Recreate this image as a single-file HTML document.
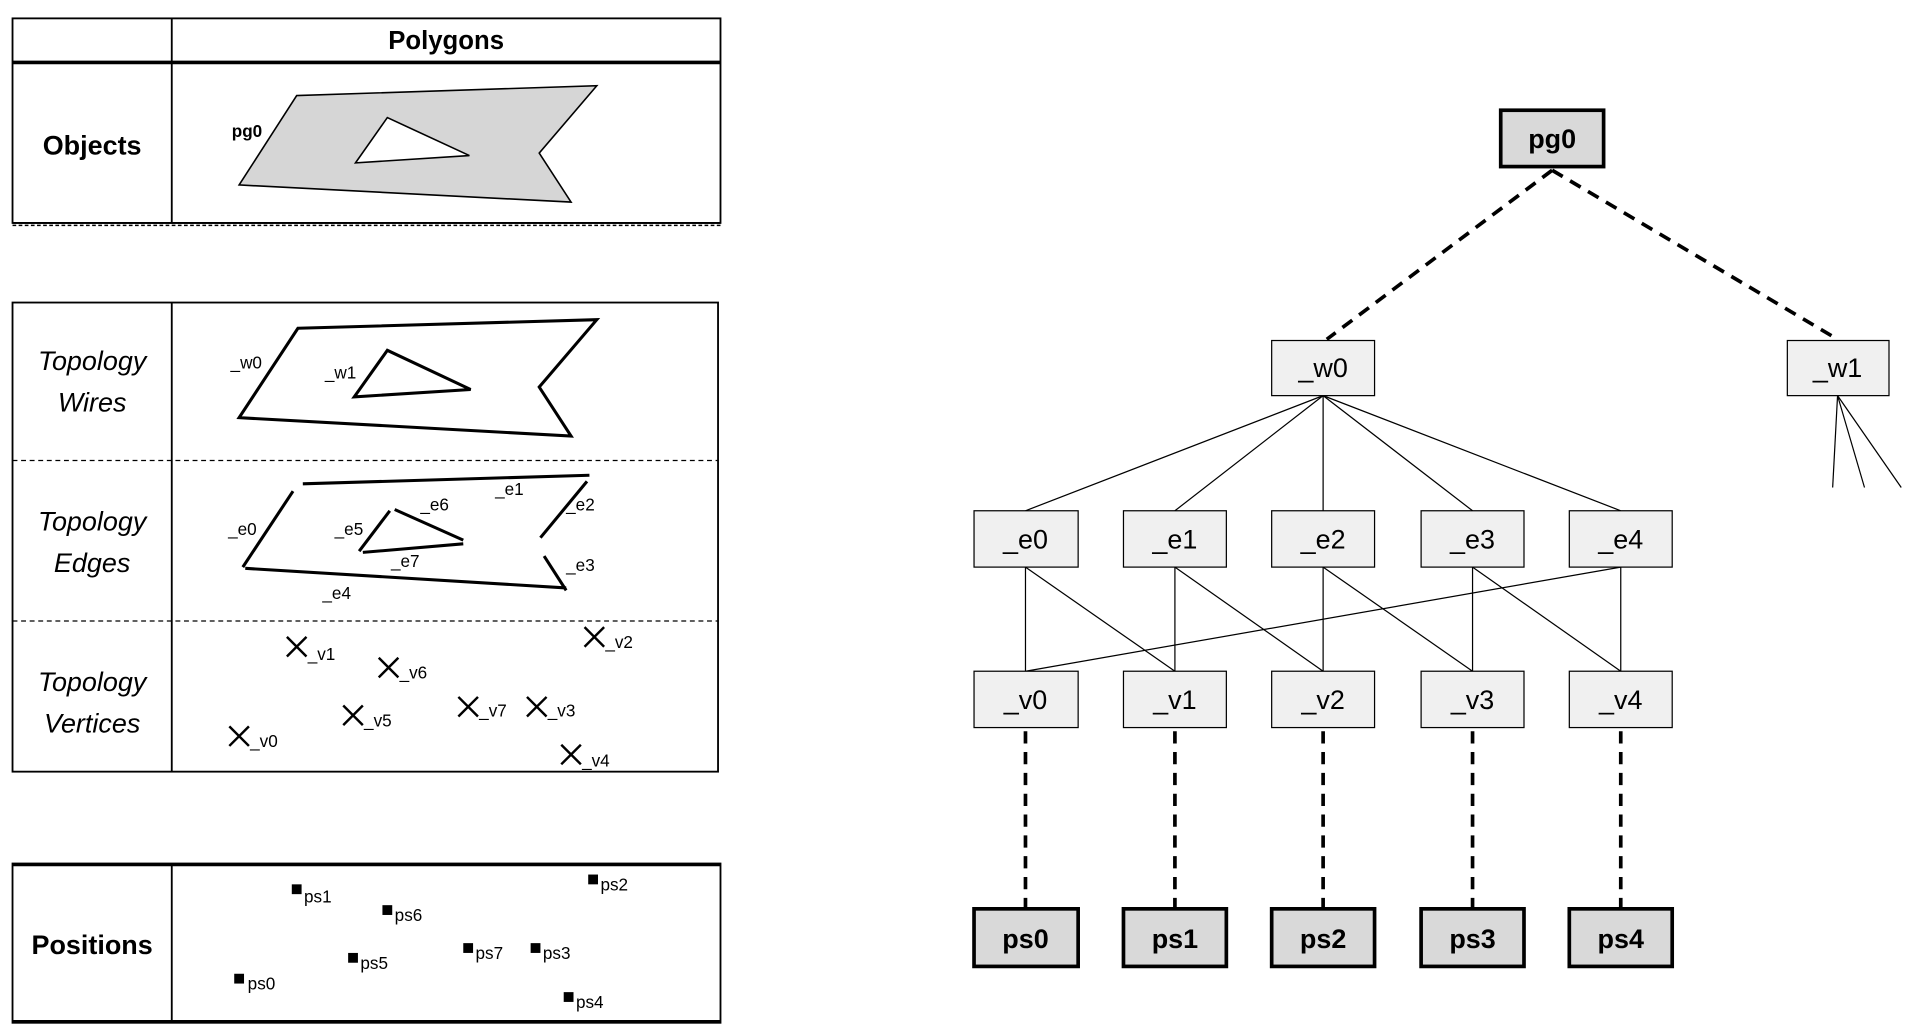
<!DOCTYPE html>
<html><head><meta charset="utf-8"><style>
html,body{margin:0;padding:0;background:#fff;width:1915px;height:1035px;overflow:hidden}
text{font-family:"Liberation Sans",sans-serif;fill:#000}
</style></head><body>
<svg width="1915" height="1035" viewBox="0 0 1563 845" xmlns="http://www.w3.org/2000/svg">
<!-- Table 1 -->
<g stroke="#000" fill="none">
<rect x="10" y="15" width="578" height="167" stroke-width="1.5"/>
<line x1="10" y1="51" x2="588" y2="51" stroke-width="3"/>
<line x1="140" y1="15" x2="140" y2="182" stroke-width="1.5"/>
<line x1="10" y1="182" x2="588" y2="182" stroke-width="1.5"/>
<line x1="10" y1="184" x2="588" y2="184" stroke-width="1.2" stroke-dasharray="3,2"/>
</g>
<text x="364" y="40" font-size="21" font-weight="bold" text-anchor="middle">Polygons</text>
<text x="75" y="126" font-size="22" font-weight="bold" text-anchor="middle">Objects</text>
<path d="M242,78 L487,70 L440,125 L466,165 L195,151 Z M316,96 L383,127 L290,133 Z" fill="#d6d6d6" fill-rule="evenodd" stroke="#000" stroke-width="1.3"/>
<text x="189" y="112" font-size="14" font-weight="bold">pg0</text>

<!-- Table 2 -->
<g stroke="#000" fill="none">
<rect x="10" y="247" width="576" height="383" stroke-width="1.5"/>
<line x1="140" y1="247" x2="140" y2="630" stroke-width="1.5"/>
<line x1="10" y1="376" x2="586" y2="376" stroke-width="1" stroke-dasharray="4,3"/>
<line x1="10" y1="507" x2="586" y2="507" stroke-width="1" stroke-dasharray="4,3"/>
<path d="M243,268 L487,261 L440,316 L466,356 L195,341 Z" stroke-width="2.5"/>
<path d="M316,286 L384,318 L289,324 Z" stroke-width="2.5"/>
<g stroke-width="2.5">
<line x1="247" y1="395" x2="481" y2="388"/>
<line x1="441" y1="439" x2="479" y2="393"/>
<line x1="444" y1="454" x2="462" y2="482"/>
<line x1="200" y1="464" x2="462" y2="480"/>
<line x1="198" y1="463" x2="239" y2="401"/>
<line x1="293" y1="450" x2="318" y2="417"/>
<line x1="322" y1="416" x2="378" y2="441"/>
<line x1="296" y1="451" x2="378" y2="444"/>
</g>
<g stroke-width="2">
<path d="M234,520 l16,16 M250,520 l-16,16"/>
<path d="M309,537 l16,16 M325,537 l-16,16"/>
<path d="M477,512 l16,16 M493,512 l-16,16"/>
<path d="M280,576 l16,16 M296,576 l-16,16"/>
<path d="M374,569 l16,16 M390,569 l-16,16"/>
<path d="M430,569 l16,16 M446,569 l-16,16"/>
<path d="M187,593 l16,16 M203,593 l-16,16"/>
<path d="M458,608 l16,16 M474,608 l-16,16"/>
</g>
</g>
<g font-size="22" font-style="italic" text-anchor="middle">
<text x="75" y="302">Topology</text><text x="75" y="336">Wires</text>
<text x="75" y="433">Topology</text><text x="75" y="467">Edges</text>
<text x="75" y="564">Topology</text><text x="75" y="598">Vertices</text>
</g>
<g font-size="14">
<text x="188" y="301">_w0</text><text x="265" y="309">_w1</text>
<text x="186" y="437">_e0</text><text x="273" y="437">_e5</text>
<text x="343" y="417">_e6</text><text x="404" y="404">_e1</text>
<text x="462" y="417">_e2</text><text x="319" y="463">_e7</text>
<text x="462" y="466">_e3</text><text x="263" y="489">_e4</text>
<text x="251" y="539">_v1</text><text x="326" y="554">_v6</text>
<text x="494" y="529">_v2</text><text x="297" y="593">_v5</text>
<text x="391" y="585">_v7</text><text x="447" y="585">_v3</text>
<text x="204" y="610">_v0</text><text x="475" y="626">_v4</text>
</g>

<!-- Table 3 -->
<g stroke="#000" fill="none">
<rect x="10" y="705" width="578" height="130" stroke-width="1.5"/>
<line x1="10" y1="706" x2="588" y2="706" stroke-width="2.5"/>
<line x1="10" y1="834" x2="588" y2="834" stroke-width="2.5"/>
<line x1="140" y1="705" x2="140" y2="835" stroke-width="1.5"/>
</g>
<text x="75" y="779" font-size="22" font-weight="bold" text-anchor="middle">Positions</text>
<g>
<rect x="238" y="722" width="8" height="8"/><rect x="312" y="739" width="8" height="8"/>
<rect x="480" y="714" width="8" height="8"/><rect x="284" y="778" width="8" height="8"/>
<rect x="378" y="770" width="8" height="8"/><rect x="433" y="770" width="8" height="8"/>
<rect x="191" y="795" width="8" height="8"/><rect x="460" y="810" width="8" height="8"/>
</g>
<g font-size="14">
<text x="248" y="737">ps1</text><text x="322" y="752">ps6</text>
<text x="490" y="727">ps2</text><text x="294" y="791">ps5</text>
<text x="388" y="783">ps7</text><text x="443" y="783">ps3</text>
<text x="202" y="808">ps0</text><text x="470" y="823">ps4</text>
</g>

<!-- Tree -->
<g stroke="#000" fill="none">
<g stroke-width="3" stroke-dasharray="10,7">
<line x1="1267" y1="139" x2="1083" y2="277"/>
<line x1="1267" y1="139" x2="1500" y2="277"/>
<line x1="837" y1="597" x2="837" y2="741"/>
<line x1="959" y1="597" x2="959" y2="741"/>
<line x1="1080" y1="597" x2="1080" y2="741"/>
<line x1="1202" y1="597" x2="1202" y2="741"/>
<line x1="1323" y1="597" x2="1323" y2="741"/>
</g>
<g stroke-width="1">
<line x1="1080" y1="323" x2="837" y2="417"/>
<line x1="1080" y1="323" x2="959" y2="417"/>
<line x1="1080" y1="323" x2="1080" y2="417"/>
<line x1="1080" y1="323" x2="1202" y2="417"/>
<line x1="1080" y1="323" x2="1323" y2="417"/>
<line x1="1500" y1="323" x2="1496" y2="398"/>
<line x1="1500" y1="323" x2="1522" y2="398"/>
<line x1="1500" y1="323" x2="1552" y2="398"/>
<line x1="837" y1="463" x2="837" y2="548"/>
<line x1="837" y1="463" x2="959" y2="548"/>
<line x1="959" y1="463" x2="959" y2="548"/>
<line x1="959" y1="463" x2="1080" y2="548"/>
<line x1="1080" y1="463" x2="1080" y2="548"/>
<line x1="1080" y1="463" x2="1202" y2="548"/>
<line x1="1202" y1="463" x2="1202" y2="548"/>
<line x1="1202" y1="463" x2="1323" y2="548"/>
<line x1="1323" y1="463" x2="1323" y2="548"/>
<line x1="1323" y1="463" x2="837" y2="548"/>
</g>
</g>
<g stroke="#000" fill="#f0f0f0" stroke-width="1">
<rect x="1038" y="278" width="84" height="45"/><rect x="1459" y="278" width="83" height="45"/>
<rect x="795" y="417" width="85" height="46"/><rect x="917" y="417" width="84" height="46"/>
<rect x="1038" y="417" width="84" height="46"/><rect x="1160" y="417" width="84" height="46"/>
<rect x="1281" y="417" width="84" height="46"/>
<rect x="795" y="548" width="85" height="46"/><rect x="917" y="548" width="84" height="46"/>
<rect x="1038" y="548" width="84" height="46"/><rect x="1160" y="548" width="84" height="46"/>
<rect x="1281" y="548" width="84" height="46"/>
</g>
<g stroke="#000" fill="#d9d9d9" stroke-width="3">
<rect x="1225" y="90" width="84" height="46"/>
<rect x="795" y="742" width="85" height="47"/><rect x="917" y="742" width="84" height="47"/>
<rect x="1038" y="742" width="84" height="47"/><rect x="1160" y="742" width="84" height="47"/>
<rect x="1281" y="742" width="84" height="47"/>
</g>
<g font-size="22" text-anchor="middle">
<text x="1267" y="121" font-weight="bold">pg0</text>
<text x="1080" y="308">_w0</text><text x="1500" y="308">_w1</text>
<text x="837" y="448">_e0</text><text x="959" y="448">_e1</text><text x="1080" y="448">_e2</text><text x="1202" y="448">_e3</text><text x="1323" y="448">_e4</text>
<text x="837" y="579">_v0</text><text x="959" y="579">_v1</text><text x="1080" y="579">_v2</text><text x="1202" y="579">_v3</text><text x="1323" y="579">_v4</text>
<g font-weight="bold">
<text x="837" y="774">ps0</text><text x="959" y="774">ps1</text><text x="1080" y="774">ps2</text><text x="1202" y="774">ps3</text><text x="1323" y="774">ps4</text>
</g>
</g>
</svg>
</body></html>
